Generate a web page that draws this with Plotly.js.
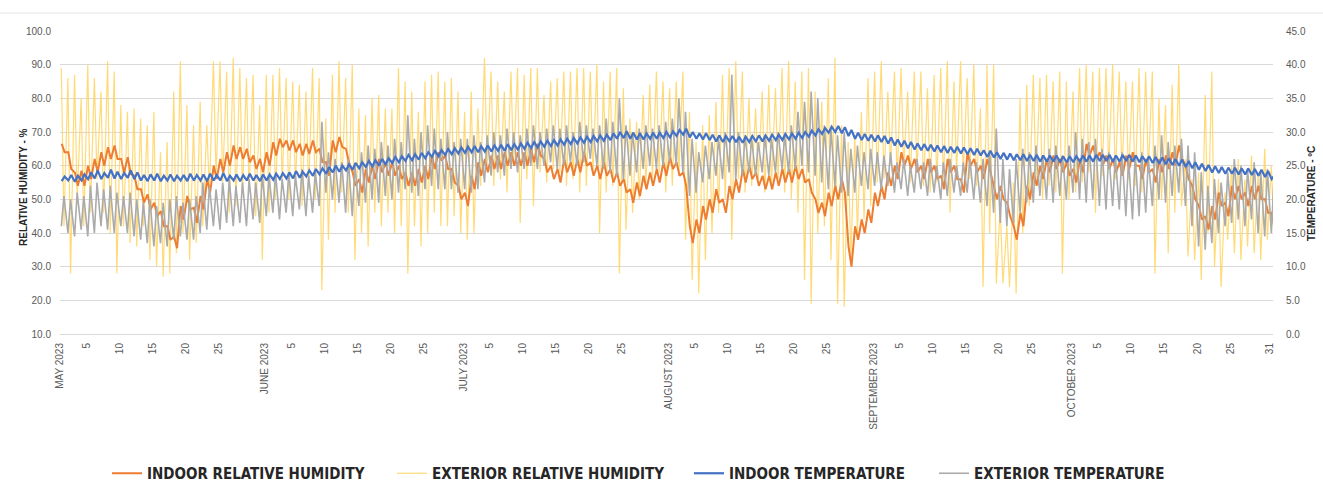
<!DOCTYPE html>
<html>
<head>
<meta charset="utf-8">
<script src="https://cdn.plot.ly/plotly-3.0.1.min.js"></script>
<style>
  html, body { margin: 0; padding: 0; background: #ffffff; }
  #chart { width: 1323px; height: 483px; }
</style>
</head>
<body>
<div id="chart"></div>
<script>
// Day index 0 = 1 May 2023 ... 183 = 31 Oct 2023 (one value per day)

// Exterior temperature (°C): daily high / daily low
const extTempHigh = [
  20.5,20,21,20.5,22,22.5,21.5,22,21,20.5,21,20,19.5,20,19,19.5,20,20.5,19.5,20,20.5,22.5,22,21.5,22.5,23,22,22.5,23,22.5,23.5,
  23.5,24,23,24,23.5,24.5,23.5,24,31.5,27,26,25.5,26,25,27,28,27.5,28.5,28,29,28.5,32.5,29,30,31,30.5,29,30,28.5,29,
  29,29.5,28.5,29.5,30,29.5,30.5,30,29.5,30.5,31,30,30.5,31,30.5,31,30,31.5,31,30.5,31,32,31.5,35,31,30,30.5,31,30.5,31,31.5,
  32,35,33,29,27,28,28.5,29,30,38.5,30,29.5,29,28.5,29.5,29,30,29.5,31,33,34.5,36,35,31,30.5,29.5,30,27.5,28,27,27.5,
  27,26.5,27,25.5,26,25,26,25.5,26,25,25.5,26,25,25.5,26,25.5,26,27,30.5,26,24.5,26,27.5,27,28,26.5,27.5,28,26.5,28,
  30,29,28.5,29,27.5,27,26.5,27,26,26.5,27,26,28,29.5,28.5,28,29,28,27,24,22,23,22.5,24,26,25,24.5,25.5,24,24.5,23
];
const extTempLow = [
  16,15,14.5,15.5,14.5,15,16,15.5,15,16,15,14.5,14,13.5,13,13.5,13,14,14.5,14,14,15,15.5,16,15.5,16.5,16,16.5,16,17,16.5,
  17.5,18,17,18,17.5,18.5,17.5,18,19,21,20,19.5,18,17.5,19,19.5,20,19.5,20.5,20,21,21.5,21,20.5,21.5,22,21.5,21.5,21.5,21,
  21.5,21,21.5,22.5,23.5,24,23.5,24.5,24,24.5,25,24.5,25,25.5,24.5,25,25.5,25,25.5,26,25,24.5,24,23.5,23,23.5,24,24.5,25,24.5,25,
  25.5,25,24,20.5,21,22.5,23,23.5,23,24,23,23.5,24,23.5,24,23.5,24,24.5,24,24.5,25,24,23.5,22.5,21.5,22,21,20.5,21,22,21.5,
  22,21.5,22,21,21.5,20.5,21,21.5,20.5,21,20,20.5,21,20.5,21,20,19.5,19,18,16.5,16,16.5,18,19.5,19.5,20.5,20,19.5,20.5,20,
  21,20,19.5,20,19,18.5,19,18.5,17.5,17,17.5,18,19,20,19.5,20.5,21,19,16,13,12.5,13.5,15,16,16.5,17,16,17,15,14.5,15
];

// Exterior relative humidity (%): daily high / daily low
const extRhHigh = [
  89,86,87,80,90,86,82,91,88,78,76,77,74,72,76,64,67,82,91,78,72,79,72,91,91,88,92,89,86,87,78,
  87,87,89,86,85,84,82,89,86,74,87,91,86,90,77,75,80,81,77,77,89,85,82,76,85,87,88,85,86,82,
  76,82,77,92,88,85,82,88,89,87,89,89,81,85,86,88,88,89,89,88,90,85,88,89,83,74,73,81,84,88,85,
  83,85,88,76,67,72,75,79,87,89,91,88,80,77,82,84,83,89,91,85,88,89,82,79,86,92,72,67,69,76,86,
  88,91,82,88,89,82,88,88,83,87,89,91,85,91,86,90,77,90,90,48,42,55,80,84,87,86,87,85,88,85,
  82,89,90,88,89,89,90,88,85,85,89,88,88,80,78,84,90,62,56,58,81,88,56,52,60,62,56,63,58,65,60
];
const extRhLow = [
  42,28,50,42,46,56,46,40,28,42,37,36,42,32,30,27,28,34,40,32,37,42,52,57,55,46,48,52,52,45,32,
  46,50,55,50,54,48,53,50,23,38,46,52,46,32,40,36,46,42,46,40,42,28,42,36,40,46,42,42,45,40,
  38,40,54,60,54,56,52,60,43,56,48,58,55,59,58,54,56,52,54,58,40,52,54,28,41,46,50,54,56,58,52,
  54,58,38,26,22,32,40,46,50,38,56,52,54,56,52,54,56,52,50,46,26,19,40,42,32,19,18,32,40,44,48,
  55,56,60,56,59,55,58,54,52,55,54,46,58,57,56,54,24,40,25,25,24,22,40,48,55,50,54,52,28,50,
  52,55,58,46,57,59,56,58,56,54,52,58,28,50,34,46,48,33,32,26,40,30,24,38,34,32,36,34,32,38,40
];

// Indoor temperature (°C): daily high / daily low
const inTempHigh = [
  23.4,23.6,23.5,23.7,24.0,24.3,23.9,24.4,24.1,23.9,24.3,24.0,23.6,23.7,23.8,23.5,23.7,23.5,23.6,23.8,23.6,23.7,23.8,23.6,23.9,23.5,23.7,23.6,23.8,23.6,23.7,
  23.7,23.8,23.9,24.0,24.2,24.1,24.3,24.5,24.6,24.8,25.0,25.0,25.2,25.4,25.5,25.7,25.8,26.0,26.1,26.3,26.4,26.6,26.7,26.9,27.0,27.2,27.3,27.5,27.6,27.7,
  27.8,27.9,27.9,28.0,28.0,28.1,28.2,28.2,28.3,28.4,28.5,28.6,28.7,28.8,28.9,29.0,29.1,29.2,29.3,29.4,29.5,29.6,29.8,30.0,30.1,29.9,29.8,29.8,29.9,29.9,30.0,
  30.1,30.3,30.5,30.0,29.8,29.8,29.6,29.5,29.4,29.4,29.3,29.3,29.4,29.5,29.5,29.6,29.6,29.7,29.8,29.9,30.0,30.2,30.4,30.6,30.8,30.9,30.7,30.3,29.9,29.7,29.6,
  29.5,29.4,29.2,28.9,28.7,28.5,28.3,28.2,28.1,28.0,27.9,27.8,27.8,27.7,27.6,27.5,27.3,27.2,27.0,26.9,26.8,26.7,26.7,26.6,26.6,26.5,26.5,26.5,26.4,26.4,
  26.4,26.5,26.5,26.6,26.6,26.6,26.5,26.6,26.6,26.5,26.4,26.4,26.3,26.2,26.1,26.0,25.9,25.7,25.5,25.3,25.1,24.9,24.8,24.7,24.7,24.6,24.6,24.5,24.4,24.2,23.6
];
const inTempLow = [
  22.7,22.8,22.6,22.8,23.0,23.1,23.0,23.2,23.1,23.0,23.2,23.0,22.8,22.7,22.8,22.7,22.8,22.7,22.8,22.7,22.8,22.8,22.7,22.8,22.8,22.7,22.8,22.7,22.8,22.8,22.7,
  22.8,22.9,23.0,23.1,23.1,23.2,23.4,23.5,23.7,23.8,24.0,24.1,24.3,24.4,24.6,24.8,24.9,25.0,25.2,25.4,25.5,25.7,25.8,25.9,26.1,26.3,26.4,26.6,26.7,26.8,
  26.9,27.0,27.0,27.1,27.1,27.2,27.2,27.3,27.4,27.5,27.6,27.7,27.8,27.9,28.0,28.1,28.2,28.3,28.4,28.5,28.6,28.7,28.8,29.0,29.1,29.0,28.9,28.9,29.0,29.0,29.1,
  29.2,29.4,29.6,29.2,29.0,28.9,28.8,28.6,28.5,28.6,28.5,28.4,28.5,28.6,28.6,28.7,28.8,28.8,28.9,29.0,29.1,29.3,29.5,29.7,29.9,30.0,29.8,29.4,29.0,28.8,28.7,
  28.6,28.5,28.3,28.0,27.8,27.6,27.4,27.3,27.2,27.1,27.0,26.9,26.9,26.8,26.7,26.6,26.5,26.3,26.2,26.0,25.9,25.8,25.8,25.7,25.7,25.6,25.6,25.6,25.5,25.5,
  25.5,25.6,25.6,25.6,25.7,25.7,25.6,25.6,25.7,25.6,25.5,25.5,25.4,25.3,25.2,25.1,25.0,24.8,24.6,24.4,24.2,24.0,23.9,23.8,23.8,23.7,23.7,23.6,23.5,23.3,23.0
];

// Indoor relative humidity (%): daily high / daily low
const inRhHigh = [
  66.5,64,58,58.5,60,62,64,65.5,66,62,62.5,57,53,51.5,49,46.5,42,39,48,51,47.5,51,56,60,62,64,66,65.5,65,63,62,
  64,67,68,67.5,67.5,66.5,66.5,67.5,65,61,67.5,68.5,65,58,56,59,60,62,61,61,60,58,58,59,60,63,64,63,59,54,
  52,57,61,62,63,63,64,64,64,64,65,66.5,62,60,59,62,61,62,64,61,60,61,59,58,56,53,55,57,58,59,61,
  62.5,61,58,42,44,48,50,53,50,54,56,59,60,58,57,57,58,59,59,60,59,56,50,49,52,54,56,36,42,44,47,
  52,54,58,60,64,63,62,60,62,60,57,62,60,56,64,62,60,62,54,54,49,42,46,54,58,60,62,63,62,61,
  59,62,66.5,66,64,63,62,61,63,64,60,62,59,62,63,64,66,60,54,48,45,48,52,49,54,54,52,54,54,50,46
];
const inRhLow = [
  64,59,54,54,56,58,60,62,62,58,57.5,53,49,47,45,42,38,35.5,44,47,43,47,52,56,58,60,62,62,61,59,58,
  60,63,65.5,64.5,64,63,63.5,64,61,57,64,65.5,61,54,52,55,56,58,57,57,56,54,54,55,56,59,61.5,59,55,50,
  48,53,57,58,59,59,60,60,60,60,61,63,58,56,55,58,57,58,60,57,56,57,55,54,52,49,51,53,54,55,57,
  59,57,54,37,40,44,46,49,46,50,52,55,56,54,53,53,54,55,55,56,55,52,46,45,48,50,52,30,38,40,43,
  48,50,54,56,60,59,58,56,58,56,53,58,56,52,60,58,56,58,50,50,45,38,42,50,54,56,58,59,58,57,
  55,58,63,62,60,59,58,57,59,60,56,58,55,58,59,60,62,56,50,44,41,44,48,45,50,50,48,50,50,46,41
];

// Tick labels along the time axis (day index -> label)
const tickDays = [0,4,9,14,19,24, 31,35,40,45,50,55, 61,65,70,75,80,85, 92,96,101,106,111,116, 123,127,132,137,142,147, 153,157,162,167,172,177,183];
const tickLabels = ['MAY 2023','5','10','15','20','25','JUNE 2023','5','10','15','20','25','JULY 2023','5','10','15','20','25','AUGUST 2023','5','10','15','20','25','SEPTEMBER 2023','5','10','15','20','25','OCTOBER 2023','5','10','15','20','25','31'];

const seriesNames = ['INDOOR RELATIVE HUMIDITY','EXTERIOR RELATIVE HUMIDITY','INDOOR TEMPERATURE','EXTERIOR TEMPERATURE'];
const axisTitles = ['RELATIVE HUMIDITY - %', 'TEMPERATURE - ºC'];

// two readings per day: first one in the early morning, second one in the afternoon
function pairSeries(first, second, f1, f2) {
  const x = [], y = [];
  for (let d = 0; d < first.length; d++) {
    x.push(d + f1); y.push(first[d]);
    x.push(d + f2); y.push(second[d]);
  }
  return {x, y};
}

const lens = [extTempHigh, extTempLow, extRhHigh, extRhLow, inTempHigh, inTempLow, inRhHigh, inRhLow].map(a => a.length);
if (lens.some(n => n !== 184)) console.error('length mismatch', lens);

const sER = pairSeries(extRhHigh, extRhLow, 0.2, 0.6);
const sIR = pairSeries(inRhHigh, inRhLow, 0.25, 0.7);
const sET = pairSeries(extTempLow, extTempHigh, 0.2, 0.6);
const sIT = pairSeries(inTempLow, inTempHigh, 0.25, 0.7);

const traces = [
  {x: sER.x, y: sER.y, name: seriesNames[1], type: 'scatter', mode: 'lines', yaxis: 'y', legend: 'legend2',
   line: {color: 'rgba(255,212,95,0.85)', width: 1.2}},
  {x: sIR.x, y: sIR.y, name: seriesNames[0], type: 'scatter', mode: 'lines', yaxis: 'y', legend: 'legend',
   line: {color: '#ED7D31', width: 2}},
  {x: sET.x, y: sET.y, name: seriesNames[3], type: 'scatter', mode: 'lines', yaxis: 'y2', legend: 'legend4',
   line: {color: '#ABABAB', width: 1.6}},
  {x: sIT.x, y: sIT.y, name: seriesNames[2], type: 'scatter', mode: 'lines', yaxis: 'y2', legend: 'legend3',
   line: {color: '#4472C4', width: 2.2}}
];

const tickFont = {family: 'Liberation Sans, Arial, sans-serif', size: 10, color: '#595959'};
const titleFont = {family: 'Liberation Sans, Arial, sans-serif', size: 10, color: '#262626', weight: 'bold'};
const legendFont = {family: 'Liberation Sans Narrow, DejaVu Sans Condensed, Arial Narrow, sans-serif', size: 15, color: '#262626', weight: 'bold'};
function legendAt(px) {
  return {orientation: 'h', x: (px - 60) / 1213, xanchor: 'left', y: (334 - 473.5) / 303, yanchor: 'middle',
          font: legendFont, itemwidth: 30, bgcolor: 'rgba(0,0,0,0)', borderwidth: 0};
}

const layout = {
  width: 1323, height: 483,
  margin: {l: 60, r: 50, t: 31, b: 149, autoexpand: false},
  paper_bgcolor: '#ffffff', plot_bgcolor: '#ffffff',
  showlegend: true,
  legend: legendAt(107),
  legend2: legendAt(392),
  legend3: legendAt(689),
  legend4: legendAt(934),
  xaxis: {range: [0, 183.45], tickmode: 'array', tickvals: tickDays, ticktext: tickLabels, automargin: false,
          tickangle: -90, tickfont: {family: 'Liberation Sans, Arial, sans-serif', size: 10, color: '#595959'},
          ticklabelstandoff: 4,
          showgrid: false, zeroline: false, showline: true, linecolor: '#d9d9d9', linewidth: 1, ticks: '', fixedrange: true},
  yaxis: {range: [10, 100], dtick: 10, tick0: 10, tickformat: '.1f', tickfont: tickFont, automargin: false,
          ticklabelstandoff: 8,
          gridcolor: '#d9d9d9', gridwidth: 1, zeroline: false, showline: false, ticks: ''},
  yaxis2: {range: [0, 45], dtick: 5, tick0: 0, tickformat: '.1f', tickfont: tickFont, overlaying: 'y', side: 'right', automargin: false,
           ticklabelstandoff: 12,
           showgrid: false, zeroline: false, showline: false, ticks: ''},
  annotations: [
    {text: axisTitles[0], xref: 'paper', yref: 'paper', x: (23 - 60) / 1213, y: (334 - 187) / 303,
     xanchor: 'center', yanchor: 'middle', textangle: -90, showarrow: false, font: titleFont},
    {text: axisTitles[1], xref: 'paper', yref: 'paper', x: (1311 - 60) / 1213, y: (334 - 194) / 303,
     xanchor: 'center', yanchor: 'middle', textangle: -90, showarrow: false, font: titleFont}
  ],
  shapes: [{type: 'line', xref: 'paper', yref: 'paper', x0: -60/1213, x1: 1263/1213, y0: (334-13)/303, y1: (334-13)/303,
            line: {color: '#e3e3e3', width: 1}}]
};

Plotly.newPlot('chart', traces, layout, {displayModeBar: false, staticPlot: true});
</script>
</body>
</html>
